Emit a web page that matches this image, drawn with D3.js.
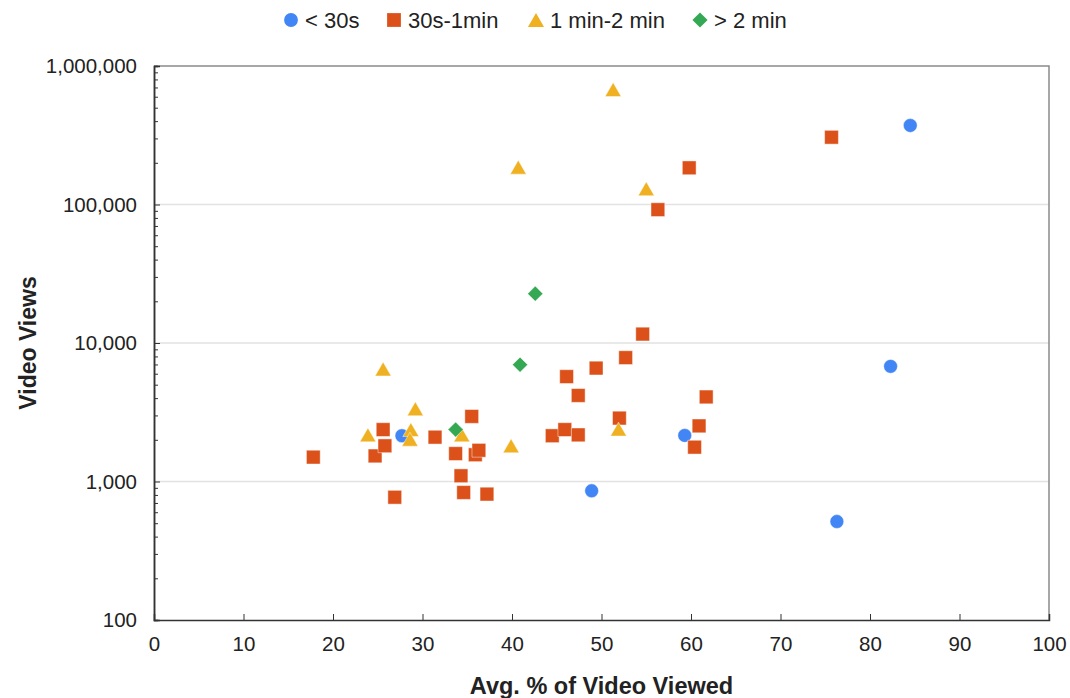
<!DOCTYPE html>
<html>
<head>
    <title>Video Views vs Avg % Viewed</title>
    <script src="https://cdnjs.cloudflare.com/ajax/libs/d3/7.8.5/d3.min.js"></script>
    <style>
        body{
            margin: 0;
            background: white;
        }
        svg{
            font-family: Arial, "Liberation Sans", sans-serif;
        }
    </style>
</head>
<body>
    <svg id="chart" width="1070" height="698"></svg>

    <script>
        // series data: x = avg % of video viewed, y = views
        var shortPct   = [27.7, 48.9, 59.3, 76.3, 82.3, 84.5];
        var shortViews = [2140, 857, 2150, 514, 6780, 372000];

        var midPct   = [17.8, 24.7, 25.6, 25.8, 26.9, 31.4, 33.7, 34.3, 34.6, 35.5, 35.9, 36.3, 37.2,
                        44.5, 45.9, 47.4, 46.1, 47.4, 49.4, 52.0, 52.7, 54.6, 56.3, 59.8, 60.4, 60.9, 61.7, 75.7];
        var midViews = [1500, 1530, 2370, 1810, 770, 2090, 1590, 1100, 833, 2950, 1560, 1680, 811,
                        2140, 2370, 2170, 5720, 4180, 6590, 2870, 7840, 11600, 91800, 184000, 1770, 2520, 4080, 306000];

        var longPct   = [23.9, 25.6, 28.7, 28.6, 29.2, 34.4, 39.9, 40.7, 51.3, 51.9, 55.0];
        var longViews = [2170, 6490, 2370, 2020, 3350, 2170, 1810, 186000, 676000, 2390, 130000];

        var vlongPct   = [33.7, 40.9, 42.6];
        var vlongViews = [2370, 6970, 22700];

        var seriesNames = ["< 30s", "30s-1min", "1 min-2 min", "> 2 min"];
        var seriesColors = ["#4285F4", "#DB5119", "#EFB121", "#34A853"];

        var xTicks = [0, 10, 20, 30, 40, 50, 60, 70, 80, 90, 100];
        var yTicks = [100, 1000, 10000, 100000, 1000000];

        var svg = d3.select("#chart");
        var plotL = 154, plotR = 1049, plotT = 66, plotB = 620;

        var xScale = d3.scaleLinear().domain([0, 100]).range([plotL, plotR]);
        var yScale = d3.scaleLog().domain([100, 1000000]).range([plotB, plotT]);

        // grid
        svg.append("g").selectAll("line")
            .data(yTicks.slice(1, -1))
            .enter()
            .append("line")
            .attr("x1", plotL)
            .attr("x2", plotR)
            .attr("y1", d => yScale(d))
            .attr("y2", d => yScale(d))
            .attr("stroke", "#e2e2e2")
            .attr("stroke-width", 1.5);

        // frame top + right
        svg.append("path")
            .attr("d", "M" + plotL + "," + plotT + "H" + plotR + "V" + plotB)
            .attr("fill", "none")
            .attr("stroke", "#8a8a8a")
            .attr("stroke-width", 1.5);

        var minorTicks = [];
        yTicks.slice(0, -1).forEach(function(t){
            for (var k = 2; k <= 9; k++) minorTicks.push(t * k);
        });

        var yAxis = d3.axisLeft(yScale)
                        .tickValues(yTicks)
                        .tickSize(-6)
                        .tickPadding(17)
                        .tickFormat(d3.format(","));
        var yMinor = d3.axisLeft(yScale)
                        .tickValues(minorTicks)
                        .tickSize(-4)
                        .tickFormat("");
        var xAxis = d3.axisBottom(xScale)
                        .tickValues(xTicks)
                        .tickSize(-6)
                        .tickPadding(16);

        svg.append("g")
            .attr("transform", "translate(" + plotL + ",0)")
            .call(yMinor);
        var gy = svg.append("g")
            .attr("transform", "translate(" + plotL + ",0)")
            .call(yAxis);
        var gx = svg.append("g")
            .attr("transform", "translate(0," + plotB + ")")
            .call(xAxis);

        svg.selectAll(".domain").attr("stroke", "#333").attr("stroke-width", 1.5);
        svg.selectAll(".tick line").attr("stroke", "#333");
        gy.selectAll("text").attr("font-size", 20.5).attr("fill", "#222").attr("font-family", "Arial, 'Liberation Sans'");
        gx.selectAll("text").attr("font-size", 20.5).attr("fill", "#222").attr("font-family", "Arial, 'Liberation Sans'");

        // axis titles
        svg.append("text")
            .attr("x", (plotL + plotR) / 2)
            .attr("y", 694)
            .attr("text-anchor", "middle")
            .attr("font-size", 23.5)
            .attr("font-weight", "bold")
            .attr("fill", "#222")
            .text("Avg. % of Video Viewed");

        svg.append("text")
            .attr("transform", "translate(36," + ((plotT + plotB) / 2) + ") rotate(-90)")
            .attr("text-anchor", "middle")
            .attr("font-size", 23)
            .attr("font-weight", "bold")
            .attr("fill", "#222")
            .text("Video Views");

        // marker shapes
        var triangle = {
            draw: function(ctx, size){
                var w = Math.sqrt(size * 4 / Math.sqrt(3));
                var h = w * Math.sqrt(3) / 2;
                ctx.moveTo(0, -h / 2);
                ctx.lineTo(w / 2, h / 2);
                ctx.lineTo(-w / 2, h / 2);
                ctx.closePath();
            }
        };
        var diamond = {
            draw: function(ctx, size){
                var r = Math.sqrt(size / 2);
                ctx.moveTo(0, -r);
                ctx.lineTo(r, 0);
                ctx.lineTo(0, r);
                ctx.lineTo(-r, 0);
                ctx.closePath();
            }
        };
        var shapes = [d3.symbolCircle, d3.symbolSquare, triangle, diamond];
        var sizes = [150, 190, 112, 115];

        var allSeries = [
            d3.zip(shortPct, shortViews),
            d3.zip(midPct, midViews),
            d3.zip(longPct, longViews),
            d3.zip(vlongPct, vlongViews)
        ];

        allSeries.forEach(function(pts, i){
            svg.append("g").selectAll("path")
                .data(pts)
                .enter()
                .append("path")
                .attr("d", d3.symbol().type(shapes[i]).size(sizes[i]))
                .attr("transform", d => "translate(" + xScale(d[0]) + "," + yScale(d[1]) + ")")
                .attr("fill", seriesColors[i])
                .attr("stroke", "rgba(255,255,255,0.45)")
                .attr("stroke-width", 1);
        });

        // legend
        var legendX = [291, 394, 536, 700];
        var legend = svg.append("g").attr("transform", "translate(0,20)");
        seriesNames.forEach(function(name, i){
            var g = legend.append("g")
                .attr("transform", "translate(" + legendX[i] + ",0)");
            g.append("path")
                .attr("d", d3.symbol().type(shapes[i]).size(sizes[i]))
                .attr("fill", seriesColors[i]);
            g.append("text")
                .attr("x", 14)
                .attr("y", 7.5)
                .attr("font-size", 22)
                .attr("fill", "#222")
                .text(name);
        });
    </script>
</body>
</html>
